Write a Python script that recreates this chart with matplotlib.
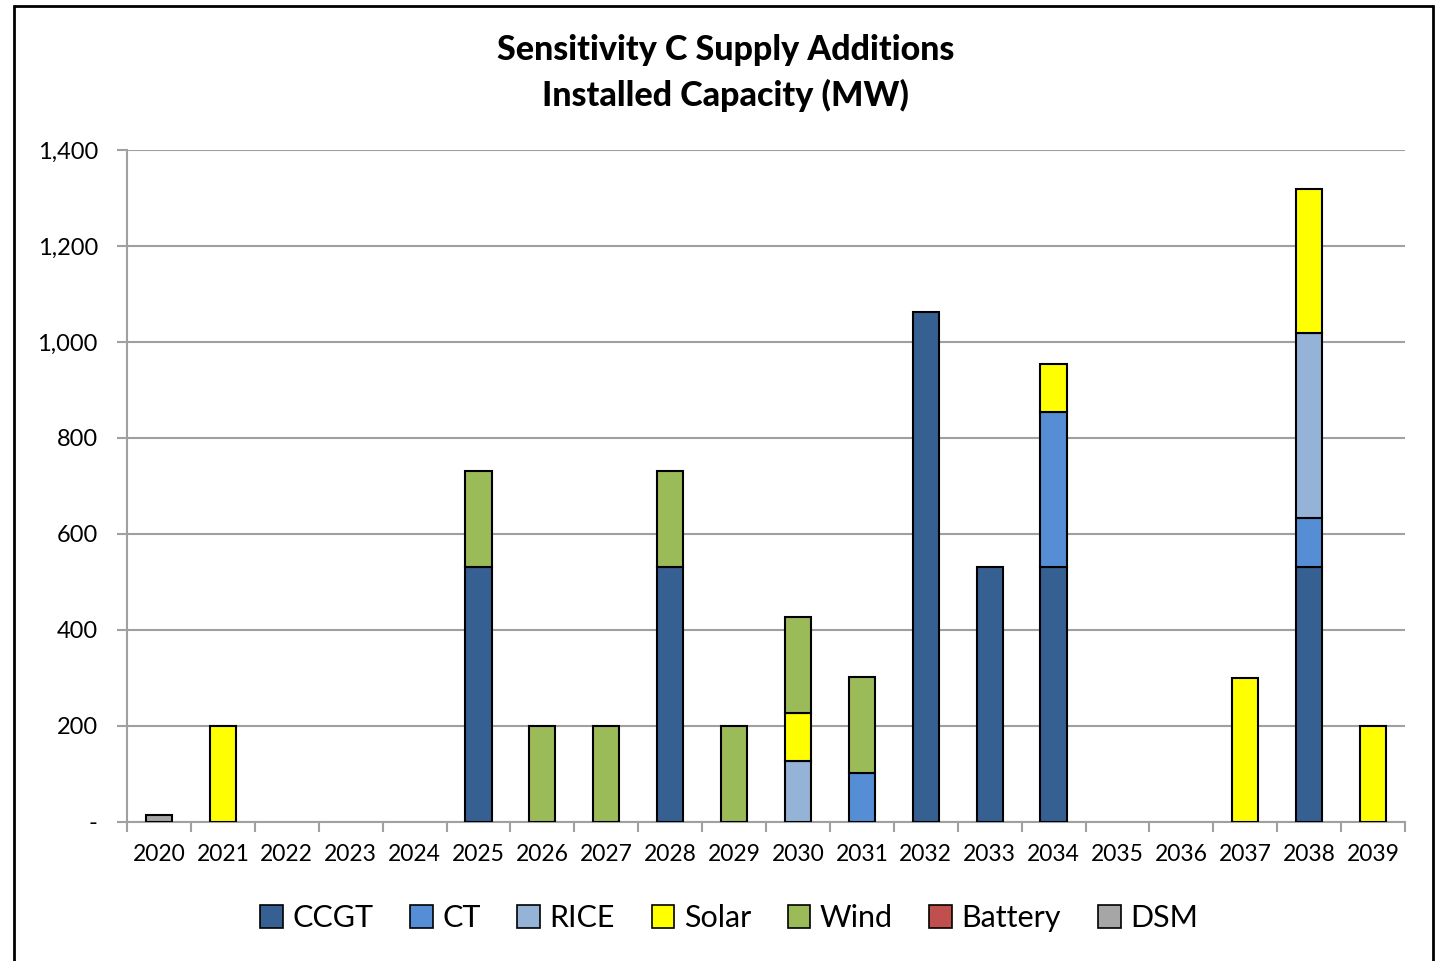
import matplotlib
matplotlib.use("Agg")
import matplotlib.pyplot as plt
from matplotlib.patches import Rectangle
from matplotlib.ticker import FuncFormatter, MultipleLocator, FixedLocator
import numpy as np

years = [str(y) for y in range(2020, 2040)]
series_names = ["CCGT", "CT", "RICE", "Solar", "Wind", "Battery", "DSM"]
colors = ["#366092", "#558ED5", "#95B3D7", "#FFFF00", "#9BBB59", "#C0504D", "#A6A6A6"]

ccgt    = [0, 0, 0, 0, 0, 532, 0, 0, 532, 0, 0, 0, 1062, 532, 532, 0, 0, 0, 532, 0]
ct      = [0, 0, 0, 0, 0, 0, 0, 0, 0, 0, 0, 102, 0, 0, 322, 0, 0, 0, 101, 0]
rice    = [0, 0, 0, 0, 0, 0, 0, 0, 0, 0, 127, 0, 0, 0, 0, 0, 0, 0, 386, 0]
solar   = [0, 200, 0, 0, 0, 0, 0, 0, 0, 0, 100, 0, 0, 0, 100, 0, 0, 300, 300, 200]
wind    = [0, 0, 0, 0, 0, 200, 200, 200, 200, 200, 200, 200, 0, 0, 0, 0, 0, 0, 0, 0]
battery = [0] * 20
dsm     = [15, 0, 0, 0, 0, 0, 0, 0, 0, 0, 0, 0, 0, 0, 0, 0, 0, 0, 0, 0]

data = [ccgt, ct, rice, solar, wind, battery, dsm]

plt.rcParams['font.family'] = ['Lato', 'DejaVu Sans']

fig = plt.figure(figsize=(14.35, 9.61), dpi=100)
ax = fig.add_axes([127/1435, 1 - 822/961, (1405-127)/1435, (822-150)/961])

x = np.arange(len(years))
bottom = np.zeros(len(years))
handles = []
for name, vals, c in zip(series_names, data, colors):
    v = np.array(vals, dtype=float)
    mask = v > 0
    ax.bar(x[mask], v[mask], bottom=bottom[mask], width=0.41, color=c,
           edgecolor="black", linewidth=1.5, zorder=3)
    bottom += v
    handles.append(Rectangle((0, 0), 1, 1, facecolor=c, edgecolor="black", linewidth=1.2))

ax.set_xlim(-0.5, len(years) - 0.5)
ax.set_ylim(0, 1400)
ax.yaxis.set_major_locator(MultipleLocator(200))
ax.yaxis.set_major_formatter(FuncFormatter(lambda v, p: "-" if v == 0 else f"{int(v):,}"))
ax.grid(axis="y", color="#A0A0A0", linewidth=1.5, zorder=0)
ax.set_axisbelow(True)

ax.set_xticks(x)
ax.set_xticklabels(years, fontsize=16.5)
ax.tick_params(axis="x", which="major", length=0, pad=16)
ax.xaxis.set_minor_locator(FixedLocator(np.arange(-0.5, len(years), 1.0)))
ax.tick_params(axis="x", which="minor", length=7, width=1.5, color="#A0A0A0")
ax.tick_params(axis="y", length=7, width=1.5, color="#A0A0A0", labelsize=17, pad=14)

for s in ["top", "right"]:
    ax.spines[s].set_visible(False)
for s in ["left", "bottom"]:
    ax.spines[s].set_color("#A0A0A0")
    ax.spines[s].set_linewidth(1.5)

fig.text(0.5055, 1 - 50/961, "Sensitivity C Supply Additions", ha="center", va="center",
         fontsize=24.5, fontweight="black")
fig.text(0.5055, 1 - 95/961, "Installed Capacity (MW)", ha="center", va="center",
         fontsize=24.5, fontweight="black")

fig.legend(handles, series_names, loc="center", bbox_to_anchor=(0.508, 1 - 918/961),
           ncol=7, frameon=False, fontsize=22, handlelength=0.75, handleheight=0.75,
           handletextpad=0.3, columnspacing=1.2)

fig.patches.append(Rectangle((14/1435, -0.01), (1433-14)/1435, 1 - 6/961 + 0.01,
                             transform=fig.transFigure, fill=False,
                             edgecolor="black", linewidth=2))

fig.savefig("out.png", dpi=100, facecolor="white")
